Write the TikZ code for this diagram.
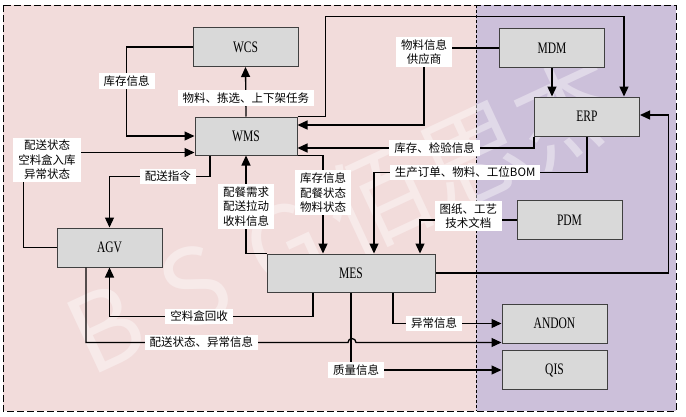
\documentclass[tikz,border=0pt]{standalone}
\usepackage{fontspec}
\setmainfont{Liberation Serif}
\newfontfamily\cjk{Noto Sans CJK SC}
\newfontfamily\boxfont{Liberation Serif}[FakeStretch=0.72]
\usetikzlibrary{arrows.meta,calc}
\definecolor{shopzone}{HTML}{F2DCDB}
\definecolor{planzone}{HTML}{CCC0DA}
\definecolor{boxgray}{HTML}{D9D9D9}

\begin{document}
\begin{tikzpicture}[x=1pt,y=-1pt]
\tikzset{
  sysbox/.style={rectangle,draw=black!75,fill=boxgray,line width=1pt,minimum width=105pt,minimum height=39pt,inner sep=0pt,font=\boxfont\fontsize{16}{18}\selectfont},
  flowlabel/.style={fill=white,inner xsep=5pt,inner ysep=2.5pt,align=center,font=\cjk\fontsize{11.5}{14.5}\selectfont},
  flow/.style={draw=black,line width=1.3pt,-{Triangle[length=10pt,width=9pt]}},
  zoneborder/.style={draw=black,line width=0.8pt,dash pattern=on 7pt off 3pt},
  watermark/.style={text=white,opacity=0.4,rotate=25,font=\cjk\fontsize{105}{110}\selectfont}
}
\useasboundingbox (0,0) rectangle (686,416);
% zones
\fill[shopzone] (3,5) rectangle (476,411);
\fill[planzone] (476,5) rectangle (676,411);
\draw[zoneborder,dash pattern=on 3pt off 2pt,line width=0.6pt] (476,5) -- (476,411);
\draw[zoneborder] (3,5) rectangle (676,411);
\node[watermark] (n_mark) at (345,215) {B\hspace{0.3em}S\hspace{0.3em}G\hspace{0.15em}佰思杰};
% systems
\node[sysbox] (n_WCS) at (245.5,47) {WCS};
\node[sysbox,minimum width=102pt,minimum height=38pt] (n_WMS) at (246,136) {WMS};
\node[sysbox] (n_MDM) at (552,48) {MDM};
\node[sysbox] (n_ERP) at (587,116.5) {ERP};
\node[sysbox] (n_PDM) at (569.5,220) {PDM};
\node[sysbox] (n_AGV) at (109.5,247.5) {AGV};
\node[sysbox,minimum width=168pt,minimum height=38pt] (n_MES) at (351,273) {MES};
\node[sysbox] (n_ANDON) at (554.5,323.5) {ANDON};
\node[sysbox] (n_QIS) at (554.5,370) {QIS};
% flows
\draw[flow] (n_WMS.north) -- node[flowlabel,pos=0.38] {物料、拣选、上下架任务} (n_WCS.south);
\draw[flow] (n_WCS.west) -- ++(-66,0) |- node[flowlabel,pos=0.19] {库存信息} (n_WMS.west);
\draw[flow] (n_AGV.west) -- ++(-33,0) |- ([yshift=3pt]n_WMS.south west);
\node[flowlabel] (n_agvlbl) at (47,160) {配送状态\\空料盒入库\\异常状态};
\draw[flow] ([xshift=-36pt]n_WMS.south) -- ++(0,21) -| node[flowlabel,pos=0.21] {配送指令} (n_AGV.north);
\draw[flow] (n_MES.north west) -| node[flowlabel,pos=0.74] {配餐需求\\配送拉动\\收料信息} (n_WMS.south);
\draw[flow] (n_WMS.south east) -| node[flowlabel,pos=0.69] {库存信息\\配餐状态\\物料状态} ([xshift=-28pt]n_MES.north);
\draw[flow] (n_WMS.north east) -- ++(28,0) -- ++(0,-100) -| ([xshift=37pt]n_ERP.north);
\draw[flow] (n_MDM.west) -- ++(-75,0) node[flowlabel,yshift=-4pt] (n_mdmlbl) {物料信息\\供应商} |- ([yshift=11pt]n_WMS.east);
\draw[flow] (n_MDM.south) -- (n_MDM.south |- n_ERP.north);
\draw[flow] (n_ERP.south west) |- node[flowlabel,pos=0.71] {库存、检验信息} ([yshift=-12pt]n_WMS.east);
\draw[flow] (n_ERP.south) -- ++(0,36) -| node[flowlabel,pos=0.286] {生产订单、物料、工位BOM} ([xshift=23pt]n_MES.north);
\draw[flow] (n_PDM.west) -| node[flowlabel,pos=0.25,yshift=4pt] {图纸、工艺\\技术文档} ([xshift=69pt]n_MES.north);
\draw[flow] (n_MES.east) -- ++(233,0) |- ([yshift=1.5pt]n_ERP.east);
\draw[flow] ([xshift=-38pt]n_MES.south) -- ++(0,24) -| node[flowlabel,pos=0.28] {空料盒回收} (n_AGV.south);
\draw[flow] ([xshift=-23.5pt]n_AGV.south) |- node[flowlabel,pos=0.72] {配送状态、异常信息} ($(n_MES.south |- n_ANDON.south)+(-3,-1)$)
  arc[start angle=180,end angle=0,radius=4pt] -- ([yshift=1pt]n_ANDON.south west);
\draw[flow] ([xshift=42pt]n_MES.south) |- node[flowlabel,pos=0.69] {异常信息} (n_ANDON.west);
\draw[flow] (n_MES.south) |- node[flowlabel,pos=0.5,xshift=5pt] {质量信息} (n_QIS.west);
\end{tikzpicture}
\end{document}
